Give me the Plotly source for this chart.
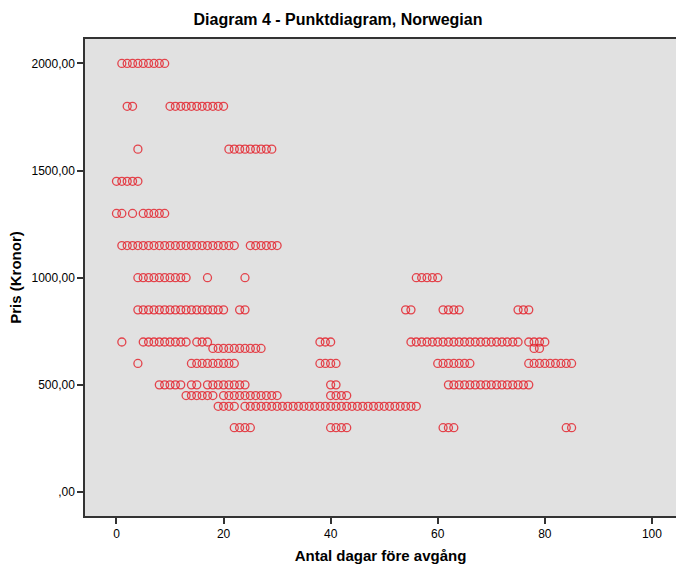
import plotly.graph_objects as go

# Price levels (Kronor) and the days-before-departure observed at each level
price_levels = [2000, 1800, 1600, 1450, 1300, 1150, 1000, 850, 700, 670, 600, 500, 450, 400, 300]
days_at_level = [
    [1, 2, 3, 4, 5, 6, 7, 8, 9],
    [2, 3, 10, 11, 12, 13, 14, 15, 16, 17, 18, 19, 20],
    [4, 21, 22, 23, 24, 25, 26, 27, 28, 29],
    [0, 1, 2, 3, 4],
    [0, 1, 3, 5, 6, 7, 8, 9],
    [1, 2, 3, 4, 5, 6, 7, 8, 9, 10, 11, 12, 13, 14, 15, 16, 17, 18, 19, 20, 21, 22,
     25, 26, 27, 28, 29, 30],
    [4, 5, 6, 7, 8, 9, 10, 11, 12, 13, 17, 24, 56, 57, 58, 59, 60],
    [4, 5, 6, 7, 8, 9, 10, 11, 12, 13, 14, 15, 16, 17, 18, 19, 20, 23, 24, 54, 55,
     61, 62, 63, 64, 75, 76, 77],
    [1, 5, 6, 7, 8, 9, 10, 11, 12, 13, 15, 16, 17, 38, 39, 40,
     55, 56, 57, 58, 59, 60, 61, 62, 63, 64, 65, 66, 67, 68, 69, 70, 71, 72, 73, 74, 75,
     77, 78, 79, 80],
    [18, 19, 20, 21, 22, 23, 24, 25, 26, 27, 78, 79],
    [4, 14, 15, 16, 17, 18, 19, 20, 21, 22, 38, 39, 40, 41, 60, 61, 62, 63, 64, 65, 66,
     77, 78, 79, 80, 81, 82, 83, 84, 85],
    [8, 9, 10, 11, 12, 14, 15, 17, 18, 19, 20, 21, 22, 23, 24, 40, 41,
     62, 63, 64, 65, 66, 67, 68, 69, 70, 71, 72, 73, 74, 75, 76, 77],
    [13, 14, 15, 16, 17, 18, 20, 21, 22, 23, 24, 25, 26, 27, 28, 29, 30, 40, 41, 42, 43],
    [19, 20, 21, 22, 24, 25, 26, 27, 28, 29, 30, 31, 32, 33, 34, 35, 36, 37, 38, 39, 40,
     41, 42, 43, 44, 45, 46, 47, 48, 49, 50, 51, 52, 53, 54, 55, 56],
    [22, 23, 24, 25, 40, 41, 42, 43, 61, 62, 63, 84, 85],
]

x_ticks = [0, 20, 40, 60, 80, 100]
y_ticks = [0, 500, 1000, 1500, 2000]
y_tick_labels = [",00", "500,00", "1000,00", "1500,00", "2000,00"]

xs, ys = [], []
for p, ds in zip(price_levels, days_at_level):
    for d in ds:
        xs.append(d)
        ys.append(p)

red = "rgba(228,28,38,0.8)"
fig = go.Figure(go.Scatter(
    x=xs, y=ys, mode="markers",
    marker=dict(symbol="circle-open", size=8, color=red, line=dict(width=1.3, color=red)),
    hoverinfo="x+y",
))

fig.update_layout(
    width=676, height=566,
    margin=dict(l=85, r=0, t=39, b=50),
    paper_bgcolor="white",
    plot_bgcolor="#e1e1e1",
    font=dict(family="Liberation Sans, Arial, sans-serif", size=12, color="black"),
    title=dict(text="<b>Diagram 4 - Punktdiagram, Norwegian</b>", x=0.5, xanchor="center",
               y=0.965, yanchor="middle", font=dict(size=16)),
    showlegend=False,
)
fig.update_xaxes(
    range=[-5.88, 104.5], tickvals=x_ticks, ticks="outside", ticklen=6, tickwidth=1.5,
    tickcolor="#333", showgrid=False, zeroline=False,
    showline=True, linecolor="#333", linewidth=1.5, mirror=True,
    title=dict(text="<b>Antal dagar före avgång</b>", font=dict(size=15), standoff=10),
)
fig.update_yaxes(
    range=[-112, 2114], tickvals=y_ticks, ticktext=y_tick_labels, ticks="outside",
    ticklen=6, tickwidth=1.5, tickcolor="#333", showgrid=False, zeroline=False,
    showline=True, linecolor="#333", linewidth=1.5, mirror=False,
    title=dict(text="<b>Pris (Kronor)</b>", font=dict(size=15), standoff=6),
)

fig.write_html("out.html")
